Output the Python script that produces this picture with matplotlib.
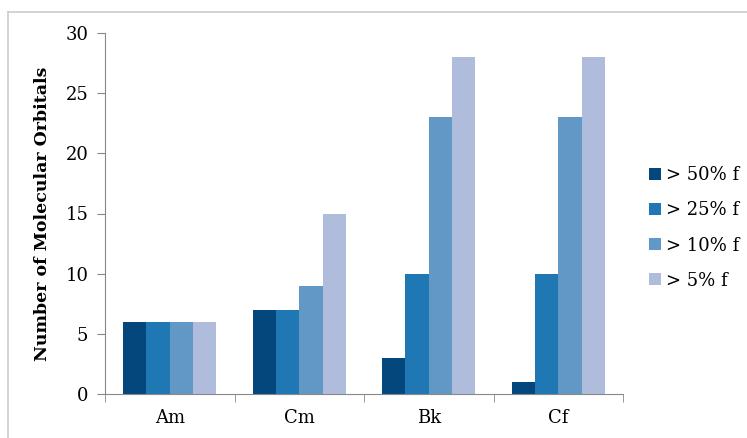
import numpy as np
import matplotlib.pyplot as plt
from matplotlib.lines import Line2D

# data
elements = ["Am", "Cm", "Bk", "Cf"]
series_names = ["> 50% f", "> 25% f", "> 10% f", "> 5% f"]
gt50 = [6, 7, 3, 1]
gt25 = [6, 7, 10, 10]
gt10 = [6, 9, 23, 23]
gt5 = [6, 15, 28, 28]
colors = ["#03477c", "#1f77b3", "#6298c6", "#afbcdc"]

plt.rcParams['font.family'] = ['DejaVu Serif']

fig = plt.figure(figsize=(7.47, 4.38), dpi=100)
ax = fig.add_axes([105/747, 1-394/438, (623-105)/747, (394-33)/438])

x = np.arange(len(elements))
w = 0.18
for i, (vals, name) in enumerate(zip([gt50, gt25, gt10, gt5], series_names)):
    ax.bar(x + (i - 1.5) * w, vals, width=w, color=colors[i], label=name, zorder=2)

ax.set_xlim(-0.5, 3.5)
ax.set_ylim(0, 30)
ax.set_yticks(range(0, 31, 5))
ax.set_xticks(x)
ax.set_xticklabels(elements)
ax.set_xticks(np.arange(-0.5, 4, 1), minor=True)
ax.tick_params(axis='x', which='major', length=0, pad=11, labelsize=13)
ax.tick_params(axis='x', which='minor', length=6, color='#888888', direction='out')
ax.tick_params(axis='y', length=6, color='#888888', labelsize=13, pad=6)

for s in ['top', 'right']:
    ax.spines[s].set_visible(False)
for s in ['left', 'bottom']:
    ax.spines[s].set_color('#888888')

ax.set_ylabel("Number of Molecular Orbitals", fontsize=12.5, fontweight='bold', labelpad=10)

leg = ax.legend(loc='center left', bbox_to_anchor=(1.05, 0.46), frameon=False,
                fontsize=13, handlelength=0.65, handleheight=0.65,
                handletextpad=0.3, labelspacing=0.95, borderpad=0, borderaxespad=0)

# outer chart border
fig.add_artist(Line2D([8/747, 8/747], [0, 1-12/438], color='#cccccc', lw=1.2))
fig.add_artist(Line2D([8/747, 1], [1-12/438, 1-12/438], color='#cccccc', lw=1.2))

fig.savefig("out.png", dpi=100)
